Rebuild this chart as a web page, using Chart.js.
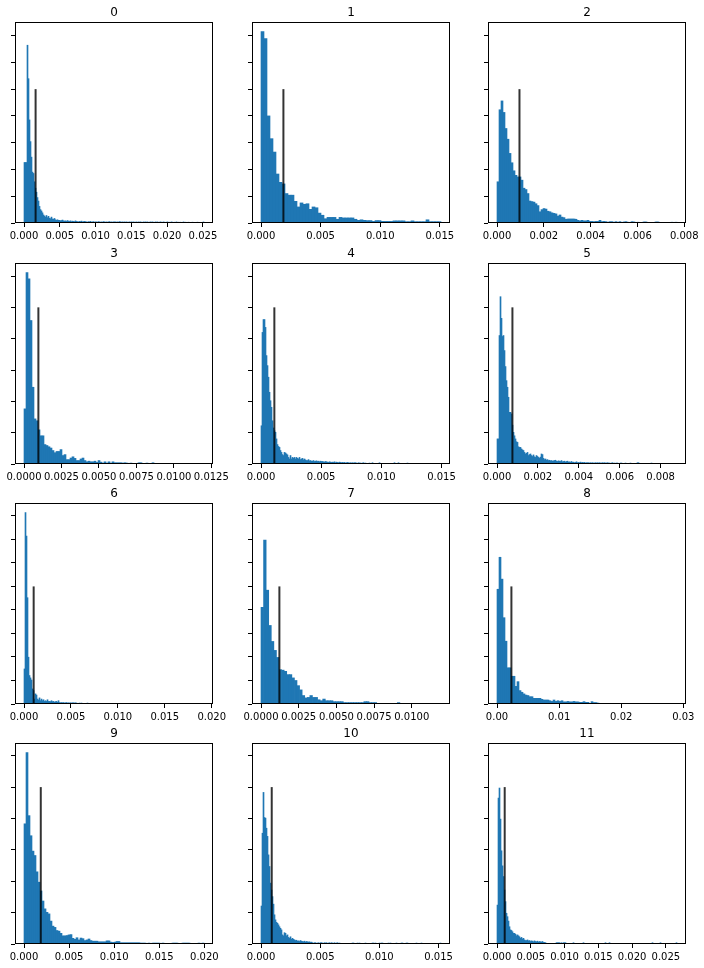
<!DOCTYPE html>
<html>
<head>
<meta charset="utf-8">
<script src="https://cdn.jsdelivr.net/npm/chart.js@4.4.0/dist/chart.umd.min.js"></script>
<style>
  body { margin: 0; background: #fff; }
  #wrap { position: relative; width: 704px; height: 968px; overflow: hidden; background: #fff; }
  #wrap canvas { position: absolute; }
</style>
</head>
<body>
<div id="wrap"></div>
<script>
// one histogram per panel, titles 0..11
var titles = ['0', '1', '2', '3', '4', '5', '6', '7', '8', '9', '10', '11'];
// range of the data in each panel (first bin edge, last bin edge)
var dataMin = [0, 0, 0, 0, 0, 0, 0, 0, 0, 0, 0, 0];
var dataMax = [0.02515, 0.0151, 0.00769, 0.01201, 0.01496, 0.0088, 0.01918, 0.01194, 0.02898, 0.01996, 0.0152, 0.02665];
// position of the black mean line, and its height
var means = [0.00162, 0.00188, 0.00096, 0.00096, 0.00111, 0.000754, 0.00103, 0.00122, 0.00232, 0.00186, 0.000906, 0.00114];
var meanLineHeight = 500;
var yTickStep = 100;

var xTickLabels = [
  ['0.000', '0.005', '0.010', '0.015', '0.020', '0.025'],
  ['0.000', '0.005', '0.010', '0.015'],
  ['0.000', '0.002', '0.004', '0.006', '0.008'],
  ['0.0000', '0.0025', '0.0050', '0.0075', '0.0100', '0.0125'],
  ['0.000', '0.005', '0.010', '0.015'],
  ['0.000', '0.002', '0.004', '0.006', '0.008'],
  ['0.000', '0.005', '0.010', '0.015', '0.020'],
  ['0.0000', '0.0025', '0.0050', '0.0075', '0.0100'],
  ['0.00', '0.01', '0.02', '0.03'],
  ['0.000', '0.005', '0.010', '0.015', '0.020'],
  ['0.000', '0.005', '0.010', '0.015'],
  ['0.000', '0.005', '0.010', '0.015', '0.020', '0.025']
];

// bin heights
var counts0 = [226,226,226,664,539,385,304,246,190,185,154,130,115,95,82,62,50,45,38,30,26,22,28,20,25,18,16,22,15,14,17,12,10,12,10,
  10,8,9,11,8,7,8,6,9,7,6,8,5,7,6,5,8,6,5,4,6,5,7,4,5,6,
  5,4,3,5,4,6,3,4,5,3,4,4,3,5,4,3,4,3,5,4,3,4,3,4,5,3,4,3,4,4,
  4,3,4,3,5,4,3,4,3,4,3,4,3,3,4,3,4,3,4,3,
  3,4,0,4,3,4,3,0,4,3,4,3,4,0,3,4,3,4,3,0,
  4,3,4,0,3,4,3,0,4,3,0,3,4,0,3,0,4,3,0,3,
  0,4,0,3,0,3,0,0,4,0,3,0,0,3,0,0,0,3,0,0,
  0,0,3,0,0,0,0,0,4];
var counts1 = [715,689,400,315,265,183,152,146,110,104,104,81,60,75,70,72,51,60,57,37,29,16,21,21,21,14,21,19,19,19,
  19,14,10,12,10,9,9,6,9,9,6,6,6,6,8,8,8,8,5,5,8,5,5,5,5,12,5,5,5,5];
var counts2 = [154,423,456,413,353,313,260,225,195,178,172,172,160,130,125,110,82,80,78,72,
  65,42,50,54,52,44,42,38,36,34,26,30,22,20,14,15,15,15,15,14,
  10,8,10,8,8,10,6,6,5,6,6,10,5,6,5,3,5,5,3,5,
  3,5,0,4,5,3,0,5,4,0,3,0,0,4,4,0,0,0,0,4,4,0,0,0,0,0,0,3,0,3];
var counts3 = [176,611,591,458,245,144,138,109,90,90,62,59,55,51,43,36,40,40,46,27,
  30,14,14,19,23,18,11,11,16,19,11,7,9,7,7,9,5,11,6,3,7,3,7,3,7,4,4,4,4,3,4,
  3,0,3,0,0,0,4,4,0,0,3,0,0,4,
  0,0,0,0,0,0,0,0,0,0,0,0,0,0,0,0,0,0,0,0,0,0,0,0,0];
var counts4 = [122,420,461,461,436,346,314,277,229,202,181,138,115,106,101,80,62,56,53,43,
  37,30,27,37,35,32,29,21,16,27,16,21,18,21,16,21,18,16,21,14,16,18,13,16,13,11,11,14,10,11,9,
  9,11,8,9,10,8,9,7,9,8,
  8,7,6,8,7,6,5,7,6,5,6,5,7,4,6,5,4,6,5,4,
  5,4,5,3,4,5,4,3,4,3,4,3,4,4,3,0,4,3,3,0,3,4,0,3,0,
  0,0,3,0,0,4,0,0,0,0,0,0,4,0,0,0,0,0,0,0,0,0,0,0,0,0,0,4,0,0,0,4,0,0,0,0,0,0,0,0,3,
  0,0,0,0,0,0,0,0,0,0,0,0,0,0,0,0,0,0,0,0,0,0,0,0,0,0,0,0,0,0,0,0,0];
var counts5 = [80,80,410,534,465,407,410,362,311,266,245,213,165,165,160,124,101,90,80,71,
  69,55,53,53,48,45,43,37,32,34,37,27,30,32,27,24,29,23,
  21,27,24,21,18,22,32,30,18,14,16,12,14,
  11,12,10,11,9,10,11,12,9,8,10,9,8,11,7,8,9,6,8,9,
  6,7,5,8,5,6,4,5,7,4,5,4,6,4,5,4,5,3,4,4,
  4,3,4,3,4,3,3,4,3,4,3,4,3,3,4,3,4,3,3,4,3,3,0,3,4,0,3,0,3,3,
  0,0,3,3,0,0,0,3,0,0,0,0,3,0,0,0,0,0,0,4,4,0,0,0,0,0,0,0,0,0,
  0,0,0,3,0,0,0,0,0,0,0,0,0,0,0,0,0,0,0,0,0,0,0,0,0,0,0,0,0];
var counts6 = [149,814,714,452,199,121,111,102,64,57,21,43,38,21,17,26,14,21,14,18,
  11,14,11,18,11,11,10,14,10,11,7,10,11,7,14,
  6,5,6,5,6,4,5,6,4,5,4,5,4,5,
  5,4,5,4,0,0,4,0,4,0,0,0,0,0,4,
  0,0,0,0,0,0,0,0,0,0,0,0,0,0,0,0,0,0,0,0,0,0,0,0,0,0,0,0,0,0,0,0,0,0,0,0,0,0,0,0,
  0,0,0,0,0,0,0,0,0,0,0,0,0,0,0,0,0,0,0,0,0,0,0,0,0,0,0,0,0,0,0,0,0,0,0,0,0,0,0,0,
  0,0,0,0,0,0,0,0,0,0,0,0,0,0,0,0,0,0,0,0,0,0,0,0,0,0,0,0,0,0,0,0,0,0,0,0];
var counts7 = [411,697,484,334,266,228,198,146,144,139,125,125,111,100,78,60,36,26,28,36,
  28,28,18,14,21,14,14,14,10,10,10,10,6,6,6,6,6,6,6,6,10,10,6,6,6,0,0,0,0,0,
  0,0,0,6,0,0,0,0,0,0,0,0,0,0,0,0,0,0,0,0];
var counts8 = [488,624,531,367,267,154,154,118,118,75,95,57,50,43,38,36,31,31,24,24,
  24,24,20,17,17,17,14,11,17,11,14,11,14,9,9,11,9,9,11,9,9,7,7,10,7,7,0,10,6,6,4,
  0,0,0,0,0,0,0,0,0,0,0,0,0,0,0,0,0,0,0,0,0,0,0,0,0,0,0,0,0,0,0,0,0,0,0,0,0,0,0];
var counts9 = [383,610,409,345,296,282,230,197,169,137,112,101,96,73,57,53,43,41,34,26,
  26,27,29,30,18,15,20,13,19,17,11,13,16,11,9,9,9,7,7,7,7,10,10,6,5,6,8,8,4,4,
  4,4,4,4,4,4,4,4,
  3,3,3,0,3,0,3,3,3,3,0,3,0,0,0,0,3,3,3,0,0,3,3,3,3,0,0,0,0,3,0,3];
var counts10 = [121,353,483,403,401,369,343,284,247,194,172,151,127,93,77,69,66,61,55,50,
  45,29,26,36,34,26,29,21,18,23,15,18,15,13,
  11,12,9,10,8,11,9,8,7,9,6,8,7,6,7,5,6,
  4,0,4,4,0,3,4,0,4,4,3,0,4,3,4,0,3,4,0,4,3,0,4,0,3,4,0,3,0,0,
  0,0,0,0,0,0,0,0,0,0, 3,3,0,0,0,3,0,3,0,0, 0,0,0,3,0,0,0,0,0,0, 3,3,0,3,0,0,0,3,0,3,
  3,0,0,0,0,0,3,0,3,0, 0,0,0,0,3,0,0,0,0,3, 3,0,0,0,3,3,0,0,0,0, 0,0,0,0,3,0,0,0,0,3,
  0,0,0,0,0,0,0,0,0,0, 0,0,0,0,0,0,0,0,3];
var counts11 = [124,465,497,398,297,249,215,172,135,98,87,73,55,45,43,39,34,34,31,26,
  29,26,23,18,21,16,18,13,11,11,13,
  10,11,8,10,9,7,10,8,7,9,6,8,7,6,8,
  5,5,4,0,0,0,0,0,0,0,0,0,0,4,4,4,4,0,4,0,4,4,4,0,0,
  0,0,0,0,0,4,0,0,0,0, 0,0,0,0,0,4,0,0,0,0, 0,0,0,0,0,0,0,0,0,0, 0,0,0,0,0,0,0,4,0,0,
  0,4,0,0,0,0,0,0,0,0, 0,0,0,0,0,0,0,0,0,0, 0,0,0,0,0,0,0,0,0,0, 0,0,0,0,0,0,0,0,0,0,
  0,0,0,0,4,0,0,0,0,0, 0,0,4,0,0,0,0,0,0,0, 0,0,0,0,0,0,0,0,4];

var allCounts = [counts0, counts1, counts2, counts3, counts4, counts5, counts6, counts7, counts8, counts9, counts10, counts11];

// page layout of the 4x3 grid
var colLeft = [15, 252, 488];
var rowTop = [22, 263, 503, 743];
var axW = 198, axH = 201;
var padL = 20, padR = 20, padT = 22, axisH = 25;

// panels in one row share the y scale
function rowMax(r) {
  var m = meanLineHeight;
  for (var c = 0; c < 3; c++) {
    allCounts[r * 3 + c].forEach(function(v) { if (v > m) m = v; });
  }
  return m * 1.05;
}

var framePlugin = {
  id: 'frame',
  afterDraw: function(chart, args, opts) {
    var a = chart.chartArea, ctx = chart.ctx;
    ctx.save();
    ctx.strokeStyle = '#000';
    ctx.lineWidth = 1;
    ctx.strokeRect(a.left + 0.5, a.top + 0.5, a.right - a.left - 1, a.bottom - a.top - 1);
    ctx.fillStyle = '#000';
    ctx.font = '12px "DejaVu Sans"';
    ctx.textAlign = 'center';
    ctx.textBaseline = 'alphabetic';
    ctx.fillText(opts.text, (a.left + a.right) / 2, a.top - 6);
    ctx.restore();
  }
};

var wrap = document.getElementById('wrap');

for (var p = 0; p < 12; p++) {
  (function(p) {
    var r = Math.floor(p / 3), c = p % 3;
    var counts = allCounts[p];
    var lo = dataMin[p], hi = dataMax[p];
    var w = (hi - lo) / counts.length;
    var margin = (hi - lo) * 0.05;
    var yMax = rowMax(r);
    var labels = xTickLabels[p];

    var bars = counts.map(function(v, i) { return { x: lo + (i + 0.5) * w, y: v }; });

    var canvas = document.createElement('canvas');
    canvas.width = padL + axW + padR;
    canvas.height = padT + axH + axisH;
    canvas.style.left = (colLeft[c] - padL) + 'px';
    canvas.style.top = (rowTop[r] - padT) + 'px';
    wrap.appendChild(canvas);

    new Chart(canvas.getContext('2d'), {
      type: 'bar',
      data: {
        datasets: [{
          type: 'line',
          data: [{ x: means[p], y: 0 }, { x: means[p], y: meanLineHeight }],
          borderColor: 'rgba(0,0,0,0.8)',
          borderWidth: 2,
          pointRadius: 0,
          order: 0
        }, {
          type: 'bar',
          data: bars,
          backgroundColor: '#1f77b4',
          borderWidth: 0,
          barPercentage: 1,
          categoryPercentage: 1,
          order: 1
        }]
      },
      options: {
        responsive: false,
        animation: false,
        devicePixelRatio: 1,
        layout: { padding: { left: padL, right: padR, top: padT, bottom: 0 } },
        plugins: {
          legend: { display: false },
          tooltip: { enabled: false },
          frame: { text: titles[p] }
        },
        scales: {
          x: {
            type: 'linear',
            offset: false,
            min: lo - margin,
            max: hi + margin,
            afterBuildTicks: function(s) {
              s.ticks = labels.map(function(t) { return { value: parseFloat(t) }; });
            },
            afterFit: function(s) { s.height = axisH; },
            border: { display: false },
            grid: { offset: false, drawOnChartArea: false, drawTicks: true, tickLength: 4, tickColor: '#000', tickWidth: 1 },
            ticks: {
              autoSkip: false,
              maxRotation: 0,
              padding: 3,
              color: '#000',
              font: { family: 'DejaVu Sans', size: 10 },
              callback: function(v, i) { return labels[i]; }
            }
          },
          y: {
            min: 0,
            max: yMax,
            afterBuildTicks: function(s) {
              var t = [];
              for (var v = 0; v <= yMax; v += yTickStep) t.push({ value: v });
              s.ticks = t;
            },
            afterFit: function(s) { s.width = 0; },
            border: { display: false },
            grid: { drawOnChartArea: false, drawTicks: true, tickLength: 4, tickColor: '#000', tickWidth: 1 },
            ticks: { display: false }
          }
        }
      },
      plugins: [framePlugin]
    });
  })(p);
}
</script>
</body>
</html>
